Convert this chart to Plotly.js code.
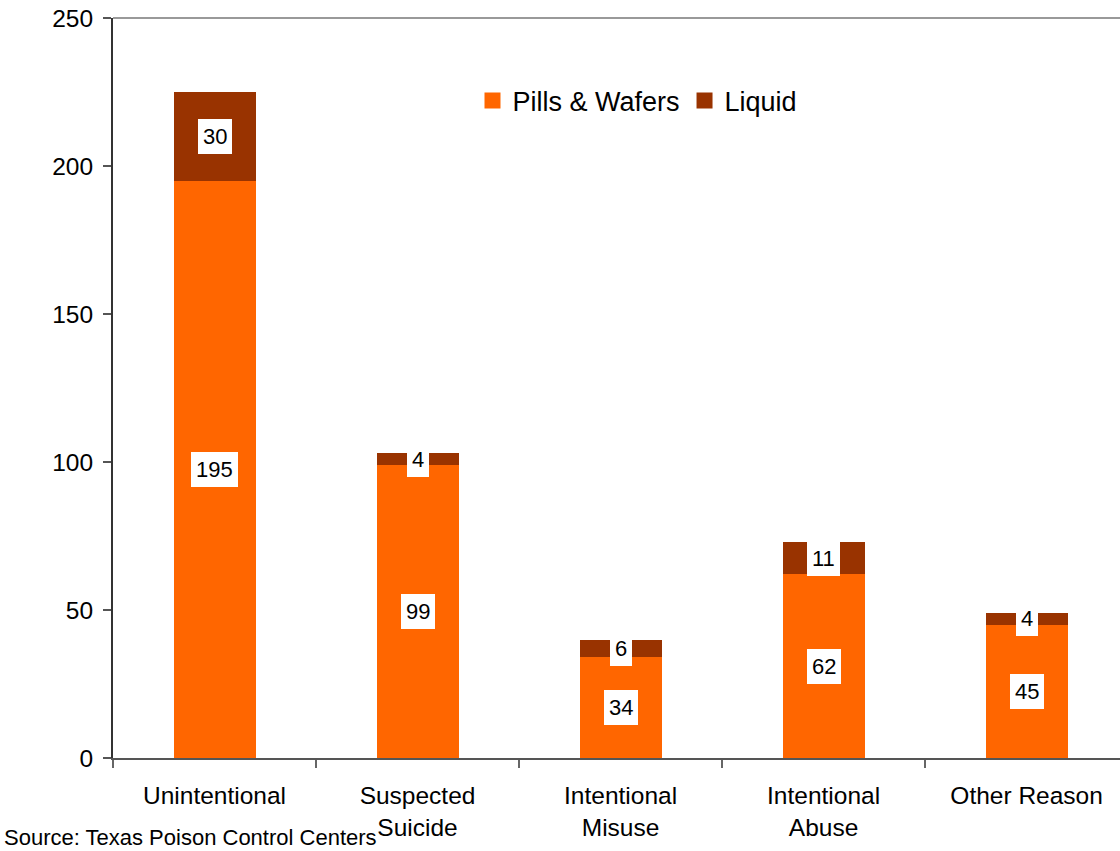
<!DOCTYPE html>
<html>
<head>
<meta charset="utf-8">
<script src="https://cdn.plot.ly/plotly-3.0.1.min.js"></script>
<style>html,body{margin:0;padding:0;background:#fff;}#chart{width:1120px;height:851px;}</style>
</head>
<body>
<div id="chart"></div>
<script>
var categories = ["Unintentional", "Suspected<br>Suicide", "Intentional<br>Misuse", "Intentional<br>Abuse", "Other Reason"];
var pillsWafers = [195, 99, 34, 62, 45];
var liquid = [30, 4, 6, 11, 4];
var seriesNames = ["Pills & Wafers", "Liquid"];
var sourceNote = "Source: Texas Poison Control Centers";

var colPills = "#FF6600";
var colLiquid = "#993300";
var fontFam = "Arial, 'Liberation Sans', sans-serif";

var traces = [
  {type: "bar", x: categories, y: pillsWafers, name: seriesNames[0], marker: {color: colPills}, width: 0.404, showlegend: false, hoverinfo: "y"},
  {type: "bar", x: categories, y: liquid, name: seriesNames[1], marker: {color: colLiquid}, width: 0.404, showlegend: false, hoverinfo: "y"},
  {type: "scatter", mode: "markers", x: [null], y: [null], name: seriesNames[0], marker: {symbol: "square", size: 17, color: colPills}},
  {type: "scatter", mode: "markers", x: [null], y: [null], name: seriesNames[1], marker: {symbol: "square", size: 17, color: colLiquid}}
];

var annotations = [];
for (var i = 0; i < categories.length; i++) {
  annotations.push({x: categories[i], y: pillsWafers[i] / 2, xref: "x", yref: "y", text: String(pillsWafers[i]), showarrow: false,
    bgcolor: "#ffffff", borderpad: 5, borderwidth: 0, font: {family: fontFam, size: 22, color: "#000"}});
  annotations.push({x: categories[i], y: pillsWafers[i] + liquid[i] / 2, xref: "x", yref: "y", text: String(liquid[i]), showarrow: false,
    bgcolor: "#ffffff", borderpad: 5, borderwidth: 0, font: {family: fontFam, size: 22, color: "#000"}});
}
annotations.push({x: -0.11, y: -0.107, xref: "paper", yref: "paper", xanchor: "left", yanchor: "middle", text: sourceNote, showarrow: false,
  font: {family: fontFam, size: 22, color: "#000"}});

var layout = {
  width: 1120, height: 851,
  margin: {l: 113, r: 0, t: 18, b: 93},
  paper_bgcolor: "#fff", plot_bgcolor: "#fff",
  barmode: "stack",
  font: {family: fontFam, color: "#000"},
  xaxis: {type: "category", range: [-0.5, 4.46], tickson: "boundaries", ticks: "outside", ticklen: 8, tickcolor: "#666", tickwidth: 1.5,
    showline: true, linecolor: "#555", linewidth: 2, showgrid: false, zeroline: false,
    tickfont: {family: fontFam, size: 24.5, color: "#000"}, ticklabelstandoff: 15},
  yaxis: {range: [0, 250], dtick: 50, ticks: "outside", ticklen: 8, tickcolor: "#555", tickwidth: 1.5,
    showline: true, linecolor: "#333", linewidth: 2, showgrid: false, zeroline: false,
    tickfont: {family: fontFam, size: 24.5, color: "#000"}, ticklabelstandoff: 5},
  legend: {orientation: "h", traceorder: "normal", x: 0.357, xanchor: "left", y: 0.888, yanchor: "middle", bgcolor: "rgba(0,0,0,0)",
    font: {family: fontFam, size: 27, color: "#000"}},
  shapes: [{type: "line", xref: "paper", yref: "paper", x0: 0, x1: 1, y0: 1, y1: 1, line: {color: "#999", width: 2}}],
  annotations: annotations
};

Plotly.newPlot("chart", traces, layout, {displayModeBar: false, staticPlot: true});
</script>
</body>
</html>
